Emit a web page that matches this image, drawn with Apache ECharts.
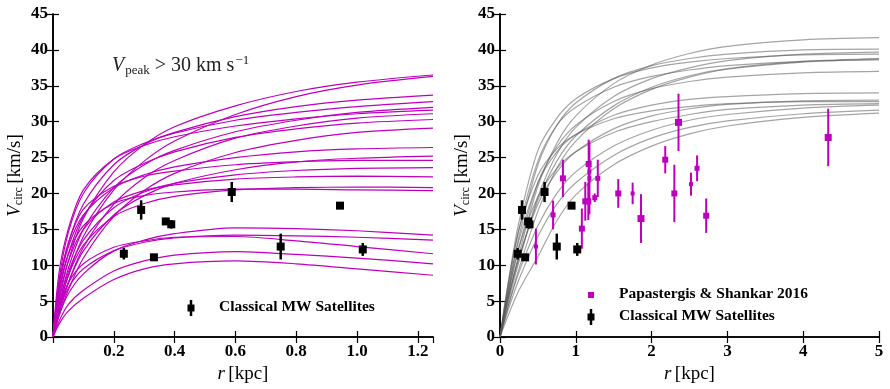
<!DOCTYPE html>
<html><head><meta charset="utf-8">
<script src="https://cdn.jsdelivr.net/npm/echarts@6/dist/echarts.min.js"></script>
<style>html,body{margin:0;padding:0;background:#fff}#c{width:890px;height:389px}</style>
</head><body><div id="c"></div>
<script>
// ---------- data ----------
const leftR = [0, 0.02, 0.05, 0.1, 0.2, 0.3, 0.4, 0.6, 0.8, 1.0, 1.25];
const leftCurves = [
  [0, 5, 10.5, 16.5, 23, 26.8, 29.3, 32.2, 34.2, 35.5, 36.5],
  [0, 4, 8.5, 14, 20.5, 24.5, 27.3, 31.0, 33.5, 35.1, 36.3],
  [0, 7, 13, 18.5, 24, 26.8, 28.5, 30.7, 32.1, 33.0, 33.7],
  [0, 8, 14.5, 20, 24.8, 27.0, 28.4, 30.2, 31.3, 32.1, 32.8],
  [0, 4.5, 9.5, 15, 20.8, 24.0, 26.0, 28.6, 30.2, 31.3, 32.0],
  [0, 9, 15, 20.5, 24.8, 26.7, 27.9, 29.4, 30.4, 31.1, 31.6],
  [0, 3.5, 7.5, 12.5, 18.5, 22.2, 24.6, 27.7, 29.4, 30.5, 31.1],
  [0, 6, 11.5, 16.8, 21.8, 24.2, 25.8, 27.8, 29.0, 29.8, 30.3],
  [0, 3, 6.5, 11, 16.8, 20.4, 22.8, 25.7, 27.4, 28.5, 29.1],
  [0, 7, 12.5, 17, 20.8, 22.6, 23.7, 25.0, 25.8, 26.2, 26.4],
  [0, 3.5, 7.5, 12, 17, 19.7, 21.4, 23.3, 24.4, 24.9, 25.2],
  [0, 7.5, 13, 17.8, 21.0, 22.4, 23.1, 24.0, 24.4, 24.6, 24.6],
  [0, 4.5, 9, 13.5, 18, 20.2, 21.4, 22.6, 23.2, 23.5, 23.6],
  [0, 5.5, 10.5, 15, 18.8, 20.4, 21.2, 22.0, 22.3, 22.4, 22.3],
  [0, 4, 8.5, 12.8, 16.8, 18.6, 19.6, 20.5, 20.8, 20.9, 20.8],
  [0, 6.5, 11.5, 15.5, 18.6, 19.7, 20.2, 20.6, 20.6, 20.5, 20.4],
  [0, 3, 6, 8.8, 12.0, 13.5, 14.4, 15.2, 15.1, 14.8, 14.2],
  [0, 3.5, 6.8, 9.5, 12.0, 13.2, 13.8, 14.2, 14.1, 13.9, 13.5],
  [0, 4, 7.5, 10.2, 12.5, 13.4, 13.9, 14.0, 13.4, 12.6, 11.6],
  [0, 2.2, 4.5, 6.5, 9.2, 10.6, 11.4, 11.9, 11.5, 11.0, 10.2],
  [0, 1.8, 3.6, 5.4, 8.0, 9.5, 10.2, 10.6, 10.2, 9.5, 8.6]
];
const rightR = [0, 0.1, 0.25, 0.5, 0.75, 1, 1.5, 2, 2.5, 3, 4, 5];
const rightCurves = [
  [0, 5, 11.5, 21, 27, 30.8, 35.3, 37.9, 39.5, 40.5, 41.4, 41.7],
  [0, 6, 14, 24, 29.5, 32.6, 36.0, 37.8, 38.8, 39.4, 40.0, 40.1],
  [0, 4.5, 10.5, 19.5, 25.5, 29.2, 33.5, 36.0, 37.5, 38.5, 39.4, 39.7],
  [0, 7, 16, 26, 30.5, 33.2, 36.0, 37.5, 38.3, 38.8, 39.3, 39.4],
  [0, 4, 9.5, 17.5, 23.5, 27.3, 31.8, 34.5, 36.2, 37.3, 38.3, 38.7],
  [0, 6.5, 15, 24.5, 29.5, 32.0, 34.8, 36.3, 37.2, 37.8, 38.4, 38.6],
  [0, 5.5, 12.5, 21.5, 26.5, 29.5, 32.8, 34.6, 35.6, 36.2, 36.8, 37.0],
  [0, 6, 13.5, 21.5, 25.8, 28.2, 30.9, 32.3, 33.1, 33.5, 33.9, 34.0],
  [0, 5, 11, 18.5, 23.0, 25.8, 29.0, 30.8, 31.8, 32.4, 32.9, 33.0],
  [0, 7, 15, 22.5, 26.2, 28.2, 30.4, 31.5, 32.1, 32.5, 32.8, 32.8],
  [0, 4, 9, 15.5, 20, 23, 26.6, 28.8, 30.2, 31.0, 31.9, 32.3],
  [0, 3.5, 8, 14, 18.5, 21.5, 25.3, 27.7, 29.2, 30.1, 31.1, 31.6],
  [0, 2.8, 6.5, 11.2, 16.2, 19.8, 24.0, 26.6, 28.3, 29.4, 30.6, 31.2],
  [0, 5.5, 12.5, 19.5, 23.5, 25.8, 28.5, 30.0, 31.0, 31.7, 32.3, 32.5],
  [0, 5, 11, 19, 24.5, 28, 32.2, 34.8, 36.4, 37.4, 38.4, 38.8]
];
// classical MW satellites: r, V, err
const mwR   = [0.233, 0.29, 0.332, 0.371, 0.389, 0.588, 0.749, 0.944, 1.019];
const mwV   = [11.6, 17.7, 11.1, 16.1, 15.7, 20.2, 12.6, 18.3, 12.2];
const mwErr = [0.8, 1.35, 0.4, 0.5, 0.6, 1.4, 1.8, 0.3, 0.9];
// Papastergis & Shankar 2016: r, V, err, marker size
const psR    = [0.474, 0.70, 0.83, 1.08, 1.125, 1.165, 1.17, 1.18, 1.18, 1.25, 1.29, 1.56, 1.75, 1.86, 2.18, 2.30, 2.355, 2.52, 2.60, 2.72, 4.33];
const psV    = [12.6, 17.0, 22.1, 15.1, 18.9, 18.9, 24.1, 23.05, 22.1, 19.4, 22.1, 20.0, 20.0, 16.5, 24.7, 20.0, 29.9, 21.3, 23.5, 16.9, 27.8];
const psErr  = [2.5, 2.0, 2.6, 2.8, 2.7, 2.6, 3.4, 1.5, 5.0, 0.6, 2.6, 2.0, 1.5, 3.4, 1.9, 4.0, 4.0, 1.6, 1.8, 2.4, 4.0];
const psSize = [4, 5, 6, 6, 6, 6, 6, 4, 4, 5, 5, 6, 4, 7, 6, 6, 7, 4, 5, 6, 7];
const leftXTicks = ['0.2', '0.4', '0.6', '0.8', '1.0', '1.2'];
// ---------- chart ----------
const MAG = 'rgb(190,0,190)';
const FONT = '"Liberation Serif", "DejaVu Serif", serif';
const chart = echarts.init(document.getElementById('c'), null, {renderer: 'canvas'});

function errItem(color, barW) {
  return function (params, api) {
    const x = api.value(0), y = api.value(1), e = api.value(2), s = api.value(3);
    const p = api.coord([x, y]), lo = api.coord([x, y - e]), hi = api.coord([x, y + e]);
    return {type: 'group', children: [
      {type: 'line', shape: {x1: p[0], y1: lo[1], x2: p[0], y2: hi[1]}, style: {stroke: color, lineWidth: barW}},
      {type: 'rect', shape: {x: p[0] - s / 2, y: p[1] - s / 2, width: s, height: s}, style: {fill: color}}
    ]};
  };
}
const series = [];
leftCurves.forEach((c, i) => series.push({
  type: 'line', xAxisIndex: 0, yAxisIndex: 0, showSymbol: false, smooth: 0.3,
  data: leftR.map((r, j) => [r, c[j]]), lineStyle: {color: MAG, width: 1.2}, silent: true, z: 2
}));
rightCurves.forEach((c, i) => series.push({
  type: 'line', xAxisIndex: 2, yAxisIndex: 2, showSymbol: false, smooth: 0.3,
  data: rightR.map((r, j) => [r, c[j]]), lineStyle: {color: 'rgba(90,90,90,0.55)', width: 1.2}, silent: true, z: 2
}));
const mwData = mwR.map((r, i) => [r, mwV[i], mwErr[i], 8]);
series.push({type: 'custom', xAxisIndex: 0, yAxisIndex: 0, renderItem: errItem('#000', 2.5), data: mwData, z: 5, clip: true});
series.push({type: 'custom', xAxisIndex: 2, yAxisIndex: 2, renderItem: errItem(MAG, 2), data: psR.map((r, i) => [r, psV[i], psErr[i], psSize[i]]), z: 4, clip: true});
series.push({type: 'custom', xAxisIndex: 2, yAxisIndex: 2, renderItem: errItem('#000', 2.5), data: mwData, z: 5, clip: true});

const axLine = {show: true, lineStyle: {color: '#000', width: 1.6}};
const tick = {show: true, inside: true, length: 6, lineStyle: {color: '#000', width: 1.2}};
const lbl = {color: '#000', fontFamily: FONT, fontWeight: 'bold', fontSize: 17};
const nameRich = {
  i: {fontFamily: FONT, fontStyle: 'italic', fontSize: 19, color: '#000'},
  n: {fontFamily: FONT, fontSize: 19, color: '#000'},
  sub: {fontFamily: FONT, fontSize: 12, color: '#000', verticalAlign: 'bottom', padding: [8, 0, 0, 0]}
};
function xAx(grid, max, interval, showZero) {
  return [{
    type: 'value', gridIndex: grid, min: 0, max: max, interval: interval, position: 'bottom',
    axisLine: axLine, axisTick: tick, splitLine: {show: false},
    axisLabel: Object.assign({}, lbl, {margin: 6, showMaxLabel: !showZero ? false : true,
      formatter: v => showZero ? String(v) : (v === 0 ? '' : leftXTicks[Math.round(v / 0.2) - 1] || '')}),
    name: '{i|r} {n|[kpc]}', nameLocation: 'middle', nameGap: 27, nameTextStyle: {rich: nameRich}
  }, {
    type: 'value', gridIndex: grid, min: 0, max: max, interval: interval, position: 'top',
    axisLine: axLine, axisTick: tick, axisLabel: {show: false}, splitLine: {show: false}
  }];
}
function yAx(grid) {
  return [{
    type: 'value', gridIndex: grid, min: 0, max: 45, interval: 5, position: 'left',
    axisLine: axLine, axisTick: tick, splitLine: {show: false},
    axisLabel: Object.assign({}, lbl, {margin: 5}),
    name: '{i|V}{sub|circ} {n|[km/s]}', nameLocation: 'middle', nameGap: 28, nameRotate: 90,
    nameTextStyle: {rich: nameRich}
  }, {
    type: 'value', gridIndex: grid, min: 0, max: 45, interval: 5, position: 'right',
    axisLine: axLine, axisTick: tick, axisLabel: {show: false}, splitLine: {show: false}
  }];
}
const legendText = {fontFamily: FONT, fontWeight: 'bold', fontSize: 15.5, fill: '#000'};
function legMarker(x, y, color, s, bar) {
  const ch = [{type: 'rect', shape: {x: x - s / 2, y: y - s / 2, width: s, height: s}, style: {fill: color}}];
  if (bar) ch.push({type: 'line', shape: {x1: x, y1: y - bar, x2: x, y2: y + bar}, style: {stroke: color, lineWidth: 2.5}});
  return ch;
}
chart.setOption({
  animation: false,
  grid: [
    {left: 53, right: 457, top: 14, bottom: 52, containLabel: false},
    {left: 500, right: 11, top: 14, bottom: 52, containLabel: false}
  ],
  xAxis: [...xAx(0, 1.25, 0.2, false), ...xAx(1, 5, 1, true)],
  yAxis: [...yAx(0), ...yAx(1)],
  series: series,
  graphic: [
    {type: 'text', left: 112, top: 54, style: {
      text: '{i|V}{sub|peak}{n| > 30 km s}{sup|−1}',
      rich: {
        i: {fontFamily: FONT, fontStyle: 'italic', fontSize: 20, fill: '#222'},
        n: {fontFamily: FONT, fontSize: 20, fill: '#222'},
        sub: {fontFamily: FONT, fontSize: 13, fill: '#222', verticalAlign: 'bottom', padding: [9, 0, 0, 1]},
        sup: {fontFamily: FONT, fontSize: 13, fill: '#222', verticalAlign: 'top', padding: [0, 0, 10, 1]}
      }}},
    ...legMarker(191, 308, '#000', 7, 8),
    {type: 'text', left: 219, top: 299, style: Object.assign({text: 'Classical MW Satellites'}, legendText)},
    ...legMarker(591, 295, MAG, 6, 0),
    {type: 'text', left: 619, top: 286, style: Object.assign({text: 'Papastergis & Shankar 2016'}, legendText)},
    ...legMarker(591, 317, '#000', 7, 8),
    {type: 'text', left: 619, top: 308, style: Object.assign({text: 'Classical MW Satellites'}, legendText)}
  ]
});
</script></body></html>
